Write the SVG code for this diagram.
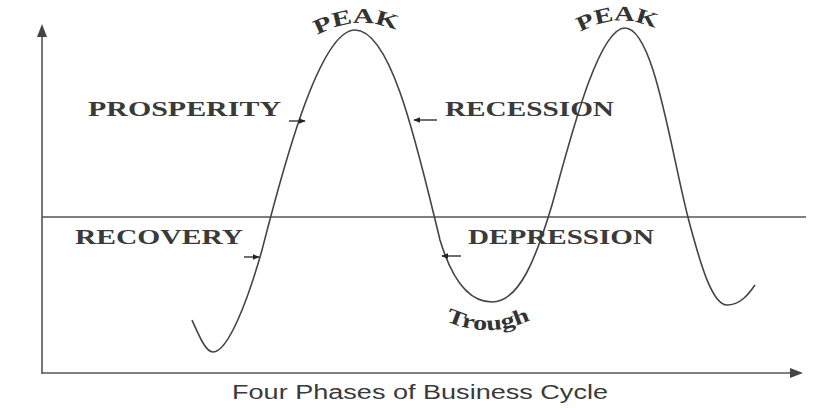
<svg xmlns="http://www.w3.org/2000/svg" width="834" height="408" viewBox="0 0 834 408">
<defs>
<style>
.ax{stroke:#555;stroke-width:1.6;fill:none}
.cv{stroke:#444;stroke-width:1.6;fill:none}
.ar{stroke:#333;stroke-width:1.4;fill:none}
.lbl{font-family:"Liberation Serif",serif;font-weight:bold;font-size:20px;fill:#3a3a3a}
.arc{font-family:"Liberation Serif",serif;font-weight:bold;font-size:21px;fill:#333}
.cap{font-family:"Liberation Sans",Arial,sans-serif;font-size:20px;fill:#3a3a3a}
</style>
<marker id="ah" viewBox="0 0 10 10" refX="9" refY="5" markerWidth="7" markerHeight="7" orient="auto" markerUnits="userSpaceOnUse">
<path d="M0,1 L10,5 L0,9 Z" fill="#222"/>
</marker>
<path id="pk1" d="M312,38 Q358,10 404,34"/>
<path id="pk2" d="M575,35 Q619,8 662,32"/>
<path id="tr" d="M440,318 Q490,344 542,314"/>
</defs>
<rect width="834" height="408" fill="#ffffff"/>
<g id="axes">
<line class="ax" x1="42" y1="34" x2="42" y2="374"/>
<path d="M42,24 L37,37 L47,37 Z" fill="#444"/>
<line class="ax" x1="42" y1="373" x2="792" y2="373"/>
<path d="M803,373 L790,368 L790,378 Z" fill="#444"/>
<line class="ax" x1="42" y1="217" x2="806" y2="217"/>
</g>
<g id="curve">
<path class="cv" d="M192,320 C200,338 206,352 213,352 C228,352 248,300 262,250 C280,180 318,30 355,30 C392,30 418,150 440,240 C455,290 475,302 492,302 C520,302 537,255 552,205 C570,140 598,28 625,28 C655,28 672,160 690,225 C700,262 712,305 727,305 C740,305 748,295 755,285"/>
</g>
<g id="arrows">
<line class="ar" x1="244" y1="257" x2="259" y2="257" marker-end="url(#ah)"/>
<line class="ar" x1="289" y1="121" x2="305" y2="121" marker-end="url(#ah)"/>
<line class="ar" x1="437" y1="120" x2="414" y2="120" marker-end="url(#ah)"/>
<line class="ar" x1="461" y1="256" x2="442" y2="256" marker-end="url(#ah)"/>
</g>
<g id="labels">
<text class="lbl" x="88" y="116" textLength="193" lengthAdjust="spacingAndGlyphs">PROSPERITY</text>
<text class="lbl" x="445" y="116" textLength="169" lengthAdjust="spacingAndGlyphs">RECESSION</text>
<text class="lbl" x="75" y="244" textLength="168" lengthAdjust="spacingAndGlyphs">RECOVERY</text>
<text class="lbl" x="468" y="244" textLength="186" lengthAdjust="spacingAndGlyphs">DEPRESSION</text>
<text class="arc"><textPath href="#pk1" startOffset="6" textLength="82" lengthAdjust="spacingAndGlyphs">PEAK</textPath></text>
<text class="arc"><textPath href="#pk2" startOffset="6" textLength="78" lengthAdjust="spacingAndGlyphs">PEAK</textPath></text>
<text class="arc" font-size="24"><textPath href="#tr" startOffset="6" textLength="88" lengthAdjust="spacingAndGlyphs">Trough</textPath></text>
<text class="cap" x="232" y="399" textLength="376" lengthAdjust="spacingAndGlyphs">Four Phases of Business Cycle</text>
</g>
</svg>
